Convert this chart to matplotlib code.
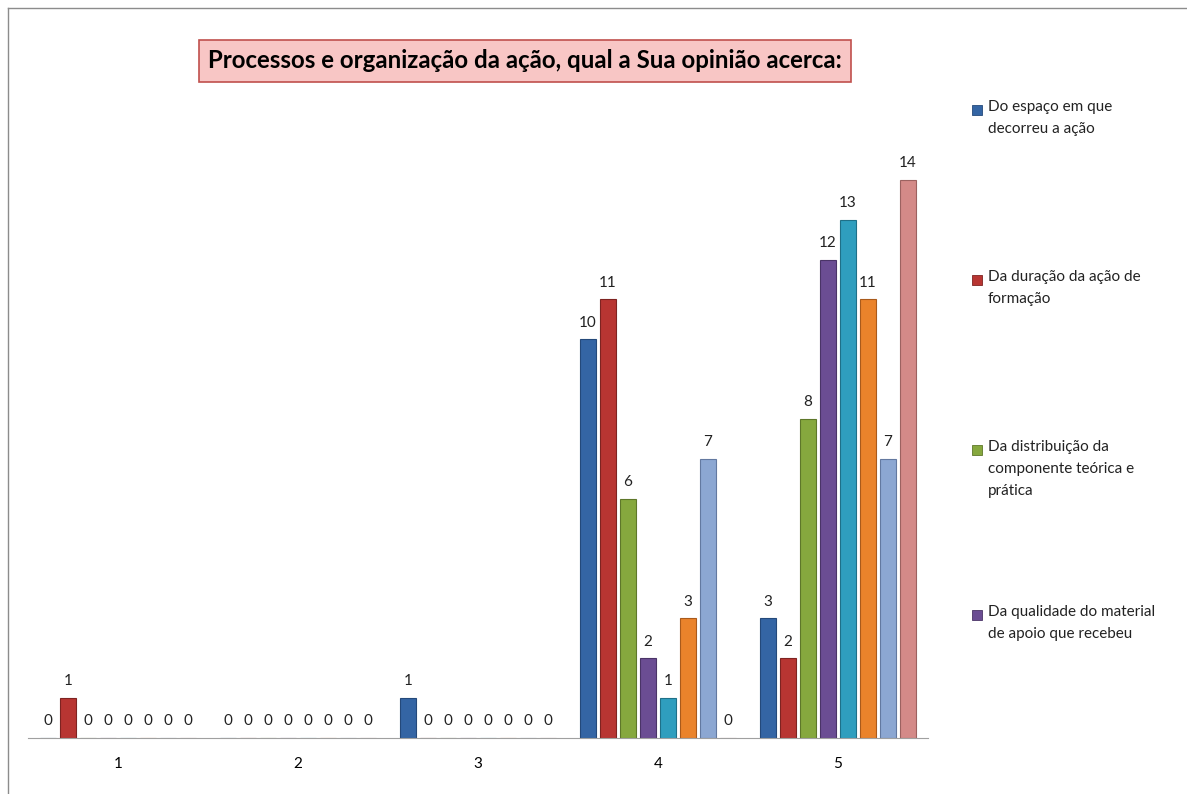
import matplotlib.pyplot as plt
import numpy as np
from matplotlib.patches import Rectangle

plt.rcParams['font.family'] = ['Lato', 'DejaVu Sans']

categories = ['1', '2', '3', '4', '5']
series_names = ['Do espaço em que\ndecorreu a ação',
                'Da duração da ação de\nformação',
                'Da distribuição da\ncomponente teórica e\nprática',
                'Da qualidade do material\nde apoio que recebeu',
                'Série 5', 'Série 6', 'Série 7', 'Série 8']
values = [
    [0, 0, 1, 10, 3],
    [1, 0, 0, 11, 2],
    [0, 0, 0, 6, 8],
    [0, 0, 0, 2, 12],
    [0, 0, 0, 1, 13],
    [0, 0, 0, 3, 11],
    [0, 0, 0, 7, 7],
    [0, 0, 0, 0, 14],
]
colors = ['#3465A4', '#B83532', '#86A83E', '#6B4D93', '#2F9EBE',
          '#EA832B', '#8CA7D2', '#D48A88']
edges = ['#24497A', '#7E2321', '#5E772A', '#4A3467', '#1F7088',
         '#A95A1B', '#6379A0', '#9C6260']

fig = plt.figure(figsize=(11.87, 7.94), dpi=100)
ax = fig.add_axes([28 / 1187, 1 - 738 / 794, 900 / 1187, 598 / 794])

x = np.arange(1, len(categories) + 1)
step = 20 / 180
width = 16 / 180
for i, vals in enumerate(values):
    off = (i - 3.5) * step
    bars = ax.bar(x + off, vals, width, color=colors[i], edgecolor=edges[i],
                  linewidth=0.8)
    ax.bar_label(bars, padding=7, fontsize=11, color='#222222')

ax.set_xlim(0.5, 5.5)
ax.set_ylim(0, 15)
ax.set_xticks(x)
ax.set_xticklabels(categories, fontsize=11)
ax.tick_params(axis='x', length=0, pad=14)
ax.set_yticks([])
for s in ['top', 'right', 'left']:
    ax.spines[s].set_visible(False)
ax.spines['bottom'].set_color('#A0A0A0')

# frame of the chart area
fig.add_artist(plt.Line2D([8 / 1187, 8 / 1187], [0, 1 - 8 / 794],
                          transform=fig.transFigure, color='#8C8C8C', lw=1))
fig.add_artist(plt.Line2D([8 / 1187, 1], [1 - 8 / 794, 1 - 8 / 794],
                          transform=fig.transFigure, color='#8C8C8C', lw=1))

# title in a box
fig.text(525 / 1187, 1 - 61 / 794,
         'Processos e organização da ação, qual a Sua opinião acerca:',
         ha='center', va='center', fontsize=17.3, fontweight='bold',
         bbox=dict(boxstyle='square,pad=0.4', facecolor='#F8C6C5',
                   edgecolor='#C0504D', linewidth=1.2))

# legend (only the first four entries are visible)
legend_y = [110, 280, 450, 615]
for i, yy in enumerate(legend_y):
    fig.add_artist(Rectangle((972 / 1187, 1 - (yy + 5) / 794), 10 / 1187, 10 / 794,
                             transform=fig.transFigure, facecolor=colors[i],
                             edgecolor=edges[i], lw=0.6))
    fig.text(988 / 1187, 1 - (yy - 10) / 794, series_names[i], ha='left',
             va='top', fontsize=11, linespacing=1.75, color='#222222')

fig.savefig('out.png', dpi=100)
